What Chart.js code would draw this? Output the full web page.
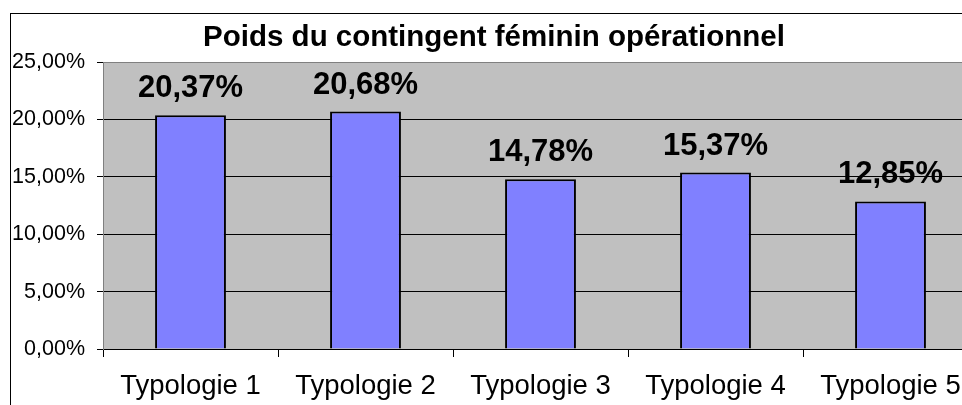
<!DOCTYPE html>
<html>
<head>
<meta charset="utf-8">
<script src="https://cdn.jsdelivr.net/npm/chart.js@4/dist/chart.umd.min.js"></script>
<style>
  html, body { margin: 0; padding: 0; background: #fff; overflow: hidden; }
  #wrap { width: 990px; height: 405px; }
</style>
</head>
<body>
<div id="wrap"><canvas id="chart" width="990" height="405"></canvas></div>
<script>
const categories = ['Typologie 1', 'Typologie 2', 'Typologie 3', 'Typologie 4', 'Typologie 5'];
const values = [20.37, 20.68, 14.78, 15.37, 12.85];
const yTicks = [0, 5, 10, 15, 20, 25];
const chartTitle = 'Poids du contingent féminin opérationnel';

const fmt = v => v.toFixed(2).replace('.', ',') + '%';

// gray plot area + outer frame
const background = {
  id: 'background',
  beforeDraw(chart) {
    const { ctx, chartArea } = chart;
    ctx.save();
    ctx.fillStyle = '#fff';
    ctx.fillRect(0, 0, chart.width, chart.height);
    ctx.fillStyle = '#C0C0C0';
    ctx.fillRect(chartArea.left, chartArea.top, chartArea.right - chartArea.left, chartArea.bottom - chartArea.top);
    ctx.strokeStyle = '#000';
    ctx.lineWidth = 1;
    ctx.strokeRect(10.5, 13.5, chart.width + 20, chart.height + 20);
    ctx.restore();
  }
};

// value labels above the bars
const barLabels = {
  id: 'barLabels',
  afterDatasetsDraw(chart) {
    const { ctx } = chart;
    const meta = chart.getDatasetMeta(0);
    ctx.save();
    ctx.font = 'bold 31px "Liberation Sans", Arial, sans-serif';
    ctx.fillStyle = '#000';
    ctx.textAlign = 'center';
    ctx.textBaseline = 'alphabetic';
    meta.data.forEach((bar, i) => {
      ctx.fillText(fmt(values[i]), bar.x, bar.y - 18);
    });
    ctx.restore();
  }
};

new Chart(document.getElementById('chart'), {
  type: 'bar',
  data: {
    labels: categories,
    datasets: [{
      data: values,
      backgroundColor: '#8080FF',
      borderColor: '#000',
      borderWidth: 2,
      barPercentage: 0.405,
      categoryPercentage: 1
    }]
  },
  options: {
    responsive: false,
    animation: false,
    devicePixelRatio: 1,
    layout: { padding: { left: 10, right: 12, top: 0, bottom: 0 } },
    plugins: {
      legend: { display: false },
      tooltip: { enabled: false },
      title: {
        display: true,
        text: chartTitle,
        color: '#000',
        font: { family: '"Liberation Sans", Arial, sans-serif', size: 29.5, weight: 'bold', lineHeight: 1.2 },
        padding: { top: 20, bottom: 6.6 }
      }
    },
    scales: {
      x: {
        afterFit(scale) { scale.height = 56; },
        grid: { drawOnChartArea: false, drawTicks: true, tickLength: 8, color: '#000', offset: true },
        border: { color: '#000', width: 1 },
        ticks: {
          color: '#000',
          padding: 13,
          maxRotation: 0,
          autoSkip: false,
          font: { family: '"Liberation Sans", Arial, sans-serif', size: 27.5, lineHeight: 1.2 }
        }
      },
      y: {
        min: 0,
        max: 25,
        afterFit(scale) { scale.width = 93; },
        afterBuildTicks(scale) { scale.ticks = yTicks.map(v => ({ value: v })); },
        grid: {
          color: ctx => (ctx.tick && ctx.tick.value === 25 ? '#808080' : '#000'),
          tickColor: '#000',
          tickLength: 6,
          lineWidth: 1
        },
        border: { color: '#808080', width: 1 },
        ticks: {
          color: '#000',
          padding: 12,
          callback: v => fmt(v),
          font: { family: '"Liberation Sans", Arial, sans-serif', size: 21.5 }
        }
      }
    }
  },
  plugins: [background, barLabels]
});
</script>
</body>
</html>
